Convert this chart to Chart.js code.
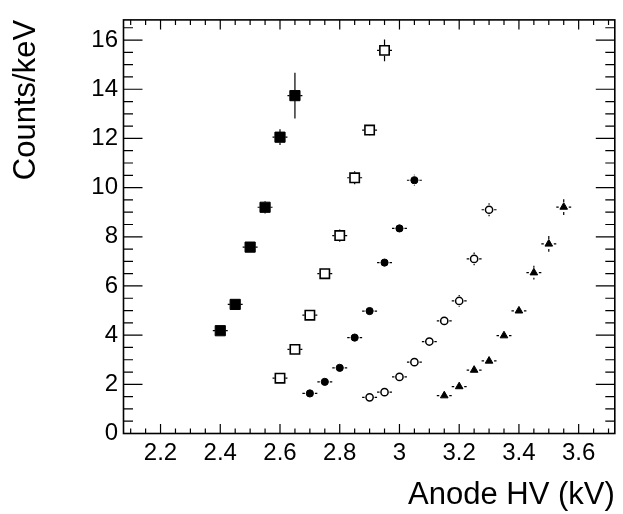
<!DOCTYPE html>
<html>
<head>
<meta charset="utf-8">
<script src="https://cdn.jsdelivr.net/npm/chart.js@4"></script>
<style>
  html, body { margin: 0; padding: 0; background: #fff; }
  #wrap { width: 623px; height: 514px; }
</style>
</head>
<body>
<div id="wrap"><canvas id="hvChart" width="623" height="514"></canvas></div>
<script>
// Data (x in kV, y in counts/keV)
const xTicks = [2.2, 2.4, 2.6, 2.8, 3.0, 3.2, 3.4, 3.6];
const yTicks = [0, 2, 4, 6, 8, 10, 12, 14, 16];

const sqFilledX = [2.4, 2.45, 2.5, 2.55, 2.6, 2.65];
const sqFilledY = [4.18, 5.25, 7.58, 9.2, 12.05, 13.74];
const sqFilledErr = [0.12, 0.15, 0.2, 0.25, 0.32, 0.93];

const sqOpenX = [2.6, 2.65, 2.7, 2.75, 2.8, 2.85, 2.9, 2.95];
const sqOpenY = [2.25, 3.42, 4.81, 6.5, 8.05, 10.4, 12.34, 15.58];
const sqOpenErr = [0.1, 0.12, 0.15, 0.2, 0.25, 0.26, 0.22, 0.44];

const dotFilledX = [2.7, 2.75, 2.8, 2.85, 2.9, 2.95, 3.0, 3.05];
const dotFilledY = [1.63, 2.1, 2.67, 3.9, 4.98, 6.95, 8.34, 10.3];
const dotFilledErr = [0.1, 0.12, 0.14, 0.16, 0.18, 0.2, 0.2, 0.22];

const dotOpenX = [2.9, 2.95, 3.0, 3.05, 3.1, 3.15, 3.2, 3.25, 3.3];
const dotOpenY = [1.47, 1.68, 2.3, 2.9, 3.74, 4.58, 5.39, 7.1, 9.1];
const dotOpenErr = [0.1, 0.1, 0.12, 0.14, 0.16, 0.18, 0.24, 0.26, 0.26];

const triX = [3.15, 3.2, 3.25, 3.3, 3.35, 3.4, 3.45, 3.5, 3.55];
const triY = [1.54, 1.91, 2.58, 2.95, 3.98, 4.99, 6.54, 7.71, 9.21];
const triErr = [0.1, 0.12, 0.15, 0.15, 0.2, 0.2, 0.28, 0.32, 0.32];

const xErr = 0.025;

function pts(xs, ys) {
  return xs.map((x, i) => ({ x: x, y: ys[i] }));
}

const FONT = '"Liberation Sans", Arial, Helvetica, sans-serif';
Chart.defaults.color = '#000';
Chart.defaults.font.family = FONT;

// error bars, drawn under the markers, with a small gap round the marker
const errorBars = {
  id: 'errorBars',
  beforeDatasetsDraw(chart) {
    const ctx = chart.ctx;
    const xs = chart.scales.x, ys = chart.scales.y;
    ctx.save();
    ctx.strokeStyle = '#000';
    ctx.lineWidth = 1.2;
    chart.data.datasets.forEach(ds => {
      const gap = ds.errGap;
      ds.data.forEach((p, i) => {
        const cx = xs.getPixelForValue(p.x);
        const cy = ys.getPixelForValue(p.y);
        const dx = Math.abs(xs.getPixelForValue(p.x + xErr) - cx);
        const up = cy - ys.getPixelForValue(p.y + ds.yErr[i]);
        ctx.beginPath();
        if (dx > gap) {
          ctx.moveTo(cx - dx, cy); ctx.lineTo(cx - gap, cy);
          ctx.moveTo(cx + gap, cy); ctx.lineTo(cx + dx, cy);
        }
        if (up > gap) {
          ctx.moveTo(cx, cy - up); ctx.lineTo(cx, cy - gap);
          ctx.moveTo(cx, cy + gap); ctx.lineTo(cx, cy + up);
        }
        ctx.stroke();
      });
    });
    ctx.restore();
  }
};

// ROOT style frame with inward ticks on all four sides
const frameTicks = {
  id: 'frameTicks',
  afterDraw(chart) {
    const ctx = chart.ctx;
    const a = chart.chartArea;
    const xs = chart.scales.x, ys = chart.scales.y;
    ctx.save();
    ctx.strokeStyle = '#000';
    ctx.lineWidth = 1.2;
    ctx.beginPath();
    for (let v = 2.1; v <= xs.max + 1e-9; v += 0.05) {
      const px = xs.getPixelForValue(v);
      const major = xTicks.some(t => Math.abs(t - v) < 1e-6);
      const len = major ? 9.5 : 5;
      ctx.moveTo(px, a.bottom); ctx.lineTo(px, a.bottom - len);
      ctx.moveTo(px, a.top); ctx.lineTo(px, a.top + len);
    }
    for (let v = 0; v <= ys.max + 1e-9; v += 0.5) {
      const py = ys.getPixelForValue(v);
      const major = yTicks.some(t => Math.abs(t - v) < 1e-6);
      const len = major ? 19 : 9.5;
      ctx.moveTo(a.left, py); ctx.lineTo(a.left + len, py);
      ctx.moveTo(a.right, py); ctx.lineTo(a.right - len, py);
    }
    ctx.stroke();
    ctx.lineWidth = 1.6;
    ctx.strokeRect(a.left, a.top, a.right - a.left, a.bottom - a.top);
    ctx.restore();
  }
};

const ctxHV = document.getElementById('hvChart').getContext('2d');

const hvChart = new Chart(ctxHV, {
  type: 'scatter',
  data: {
    datasets: [
      {
        data: pts(sqFilledX, sqFilledY), yErr: sqFilledErr, errGap: 5.3,
        pointStyle: 'rect', pointRadius: 7.2, backgroundColor: '#000',
        borderColor: '#000', borderWidth: 1
      },
      {
        data: pts(sqOpenX, sqOpenY), yErr: sqOpenErr, errGap: 5.3,
        pointStyle: 'rect', pointRadius: 6.6, backgroundColor: '#fff',
        borderColor: '#000', borderWidth: 1.6
      },
      {
        data: pts(dotFilledX, dotFilledY), yErr: dotFilledErr, errGap: 5,
        pointStyle: 'circle', pointRadius: 3.6, backgroundColor: '#000',
        borderColor: '#000', borderWidth: 1
      },
      {
        data: pts(dotOpenX, dotOpenY), yErr: dotOpenErr, errGap: 5,
        pointStyle: 'circle', pointRadius: 3.6, backgroundColor: '#fff',
        borderColor: '#000', borderWidth: 1.5
      },
      {
        data: pts(triX, triY), yErr: triErr, errGap: 5,
        pointStyle: 'triangle', pointRadius: 4.4, backgroundColor: '#000',
        borderColor: '#000', borderWidth: 1
      }
    ]
  },
  options: {
    responsive: false,
    animation: false,
    devicePixelRatio: 1,
    layout: { padding: { top: 13, right: 1, left: 0, bottom: 0 } },
    plugins: {
      legend: { display: false },
      tooltip: { enabled: false }
    },
    elements: { point: { hoverRadius: 0 } },
    scales: {
      x: {
        type: 'linear',
        min: 2.076,
        max: 3.721,
        afterBuildTicks: axis => { axis.ticks = xTicks.map(v => ({ value: v })); },
        afterFit: axis => { axis.height = 80.5; },
        grid: { display: false, drawTicks: false },
        border: { display: false },
        ticks: {
          padding: 5,
          maxRotation: 0,
          autoSkip: false,
          font: { size: 24, family: FONT },
          callback: v => String(v)
        },
        title: {
          display: true,
          text: 'Anode HV (kV)',
          align: 'end',
          padding: { top: 0, bottom: 0 },
          font: { size: 31, family: FONT }
        }
      },
      y: {
        type: 'linear',
        min: 0,
        max: 16.82,
        afterBuildTicks: axis => { axis.ticks = yTicks.map(v => ({ value: v })); },
        afterFit: axis => { axis.width = 123.5; },
        grid: { display: false, drawTicks: false },
        border: { display: false },
        ticks: {
          padding: 5.5,
          autoSkip: false,
          font: { size: 24, family: FONT },
          callback: v => String(v)
        },
        title: {
          display: true,
          text: 'Counts/keV',
          align: 'end',
          padding: { top: 7.4, bottom: 0 },
          font: { size: 31, family: FONT }
        }
      }
    }
  },
  plugins: [errorBars, frameTicks]
});
</script>
</body>
</html>
